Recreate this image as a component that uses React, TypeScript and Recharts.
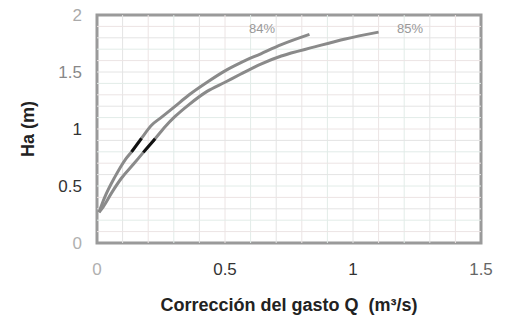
import React from 'react';
import { LineChart, Line, XAxis, YAxis, ReferenceArea, ReferenceDot, ReferenceLine } from 'recharts';

// Curve 84 %
const q84 = [0.008, 0.03, 0.07, 0.11, 0.135, 0.174, 0.214, 0.25, 0.3, 0.36, 0.43, 0.5, 0.56, 0.64, 0.72, 0.83];
const h84 = [0.27, 0.4, 0.58, 0.73, 0.8, 0.92, 1.035, 1.1, 1.19, 1.3, 1.41, 1.51, 1.58, 1.66, 1.74, 1.83];
// Curve 85 %
const q85 = [0.008, 0.025, 0.057, 0.096, 0.142, 0.181, 0.227, 0.266, 0.305, 0.357, 0.43, 0.5, 0.56, 0.64, 0.72, 0.85, 0.97, 1.1];
const h85 = [0.27, 0.32, 0.44, 0.57, 0.69, 0.795, 0.915, 1.02, 1.11, 1.21, 1.33, 1.41, 1.48, 1.57, 1.64, 1.72, 1.79, 1.85];
// Black marks on the curves
const mark84Q = [0.135, 0.174];
const mark84H = [0.8, 0.918];
const mark85Q = [0.181, 0.227];
const mark85H = [0.795, 0.915];

const curveLabels = ['84%', '85%'];
const curveLabelQ = [0.645, 1.223];
const curveLabelH = [1.88, 1.88];

const xTicks = [0, 0.5, 1, 1.5];
const yTicks = [0, 0.5, 1, 1.5, 2];
const gridX = [0.1, 0.2, 0.3, 0.4, 0.5, 0.6, 0.7, 0.8, 0.9, 1, 1.1, 1.2, 1.3, 1.4];
const gridY = [0.1, 0.2, 0.3, 0.4, 0.5, 0.6, 0.7, 0.8, 0.9, 1, 1.1, 1.2, 1.3, 1.4, 1.5, 1.6, 1.7, 1.8, 1.9];

const xLabel = 'Corrección del gasto Q \u00a0(m³/s)';
const yLabel = 'Ha (m)';

const zip = (xs: number[], ys: number[]) => xs.map((x, i) => ({ x, y: ys[i] }));

const d84 = zip(q84, h84);
const d85 = zip(q85, h85);
const m84 = zip(mark84Q, mark84H);
const m85 = zip(mark85Q, mark85H);

const FONT = '"Liberation Sans", Arial, sans-serif';

const xTickColor: Record<string, string> = { '0': '#b0b0b0', '0.5': '#333', '1': '#333', '1.5': '#666' };
const yTickColor: Record<string, string> = { '0': '#b0b0b0', '0.5': '#333', '1': '#333', '1.5': '#888', '2': '#aaa' };
const gridColors = ['#e4e4e4', '#ece4e4', '#e2ece8'];

const XTick = (props: any) => {
  const { x, y, payload } = props;
  return (
    <text x={x} y={y} dy="0.71em" textAnchor="middle" fontSize={17} fontFamily={FONT} fill={xTickColor[String(payload.value)] || '#555'}>
      {String(payload.value)}
    </text>
  );
};

const YTick = (props: any) => {
  const { x, y, payload } = props;
  return (
    <text x={x} y={y} dy="0.36em" textAnchor="end" fontSize={17} fontFamily={FONT} fill={yTickColor[String(payload.value)] || '#555'}>
      {String(payload.value)}
    </text>
  );
};

export default function App() {
  return (
    <div style={{ position: 'absolute', left: 0, top: 0, background: '#fff' }}>
      <LineChart width={508} height={320} margin={{ top: 15, right: 27, bottom: 7, left: 0 }}>
        <XAxis
          type="number"
          dataKey="x"
          domain={[0, 1.5]}
          ticks={xTicks}
          interval={0}
          height={70}
          tickSize={0}
          tickMargin={20}
          axisLine={false}
          tick={<XTick />}
          allowDuplicatedCategory={false}
          label={{ value: xLabel, position: 'insideBottom', offset: 2, style: { fontFamily: FONT, fontSize: 18, fontWeight: 'bold', fill: '#222' } }}
        />
        <YAxis
          type="number"
          domain={[0, 2]}
          ticks={yTicks}
          interval={0}
          width={97}
          tickSize={0}
          tickMargin={15}
          axisLine={false}
          tick={<YTick />}
          label={{ value: yLabel, angle: -90, position: 'insideLeft', offset: 28, style: { textAnchor: 'middle', fontFamily: FONT, fontSize: 18, fontWeight: 'bold', fill: '#222' } }}
        />
        {gridX.map((v, i) => (
          <ReferenceLine key={'gx' + v} x={v} stroke={gridColors[i % 3]} strokeWidth={1} />
        ))}
        {gridY.map((v, i) => (
          <ReferenceLine key={'gy' + v} y={v} stroke={gridColors[(i + 1) % 3]} strokeWidth={1} />
        ))}
        <ReferenceArea x1={0} x2={1.5} y1={0} y2={2} fill="none" stroke="#9a9a9a" strokeWidth={3} />
        <Line data={d84} dataKey="y" type="monotone" stroke="#8a8a8a" strokeWidth={3} dot={false} isAnimationActive={false} />
        <Line data={d85} dataKey="y" type="monotone" stroke="#8a8a8a" strokeWidth={3} dot={false} isAnimationActive={false} />
        <Line data={m84} dataKey="y" type="linear" stroke="#111" strokeWidth={3} dot={false} isAnimationActive={false} />
        <Line data={m85} dataKey="y" type="linear" stroke="#111" strokeWidth={3} dot={false} isAnimationActive={false} />
        {curveLabels.map((t, i) => (
          <ReferenceDot
            key={t}
            x={curveLabelQ[i]}
            y={curveLabelH[i]}
            r={0}
            stroke="none"
            fill="none"
            ifOverflow="visible"
            label={{ value: t, position: 'center', style: { fontFamily: FONT, fontSize: 13, fill: '#999' } }}
          />
        ))}
      </LineChart>
    </div>
  );
}
